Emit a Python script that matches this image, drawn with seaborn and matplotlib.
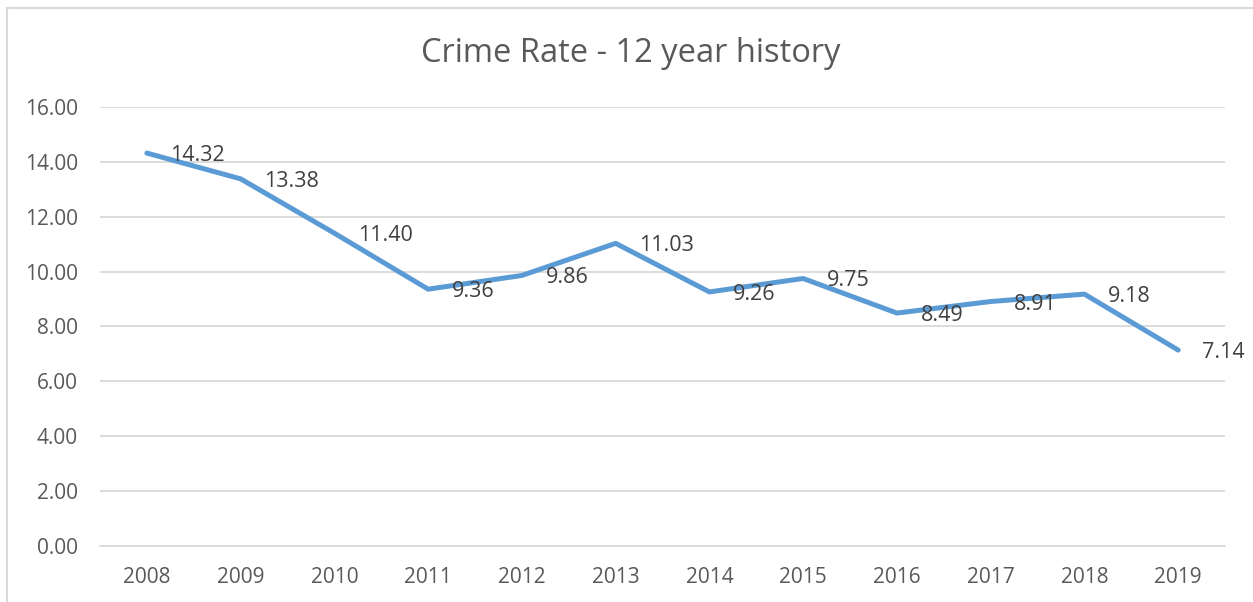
import matplotlib.pyplot as plt
import seaborn as sns
import pandas as pd
from matplotlib.patches import Rectangle

years = ["2008", "2009", "2010", "2011", "2012", "2013",
         "2014", "2015", "2016", "2017", "2018", "2019"]
crime_rate = [14.32, 13.38, 11.40, 9.36, 9.86, 11.03,
              9.26, 9.75, 8.49, 8.91, 9.18, 7.14]

sns.set_theme(style="white")
plt.rcParams["font.family"] = ["Open Sans", "DejaVu Sans"]

text_color = "#595959"
grid_color = "#D9D9D9"
line_color = "#5B9BD5"

df = pd.DataFrame({"year": years, "rate": crime_rate})
df["pos"] = range(len(df))

fig = plt.figure(figsize=(12.53, 6.02), dpi=100)
ax = fig.add_axes([0.0798, 0.093, 0.8979, 0.7293])

# chart border (light gray frame)
fig.patches.append(Rectangle((7 / 1253, -0.05), 1.1, 1 - 8 / 602 + 0.05,
                             transform=fig.transFigure, fill=False,
                             edgecolor=grid_color, linewidth=1.5))

sns.lineplot(data=df, x="pos", y="rate", ax=ax, color=line_color,
             linewidth=3.6, solid_joinstyle="round", solid_capstyle="round")

for x, y in zip(df["pos"], df["rate"]):
    ax.annotate(f"{y:.2f}", (x, y), xytext=(17, 0), textcoords="offset points",
                ha="left", va="center_baseline", fontsize=15.5, color="#404040")

ax.set_xlim(-0.5, len(years) - 0.5)
ax.set_ylim(0, 16)
ax.set_yticks(range(0, 17, 2))
ax.set_yticklabels([f"{v:.2f}" for v in range(0, 17, 2)])
ax.set_xticks(df["pos"])
ax.set_xticklabels(years)
ax.grid(axis="y", color=grid_color, linewidth=1.3)
ax.set_axisbelow(True)
ax.tick_params(axis="y", length=0, pad=16, labelsize=15, labelcolor=text_color)
ax.tick_params(axis="x", length=0, pad=15, labelsize=15, labelcolor=text_color)
for side in ["top", "right", "left"]:
    ax.spines[side].set_visible(False)
ax.spines["bottom"].set_color(grid_color)
ax.spines["bottom"].set_linewidth(1.3)
ax.set_xlabel("")
ax.set_ylabel("")

fig.text(0.5036, 1 - 53 / 602, "Crime Rate - 12 year history", ha="center",
         va="center", fontsize=23.5, color=text_color)

fig.savefig("out.png", dpi=100)
